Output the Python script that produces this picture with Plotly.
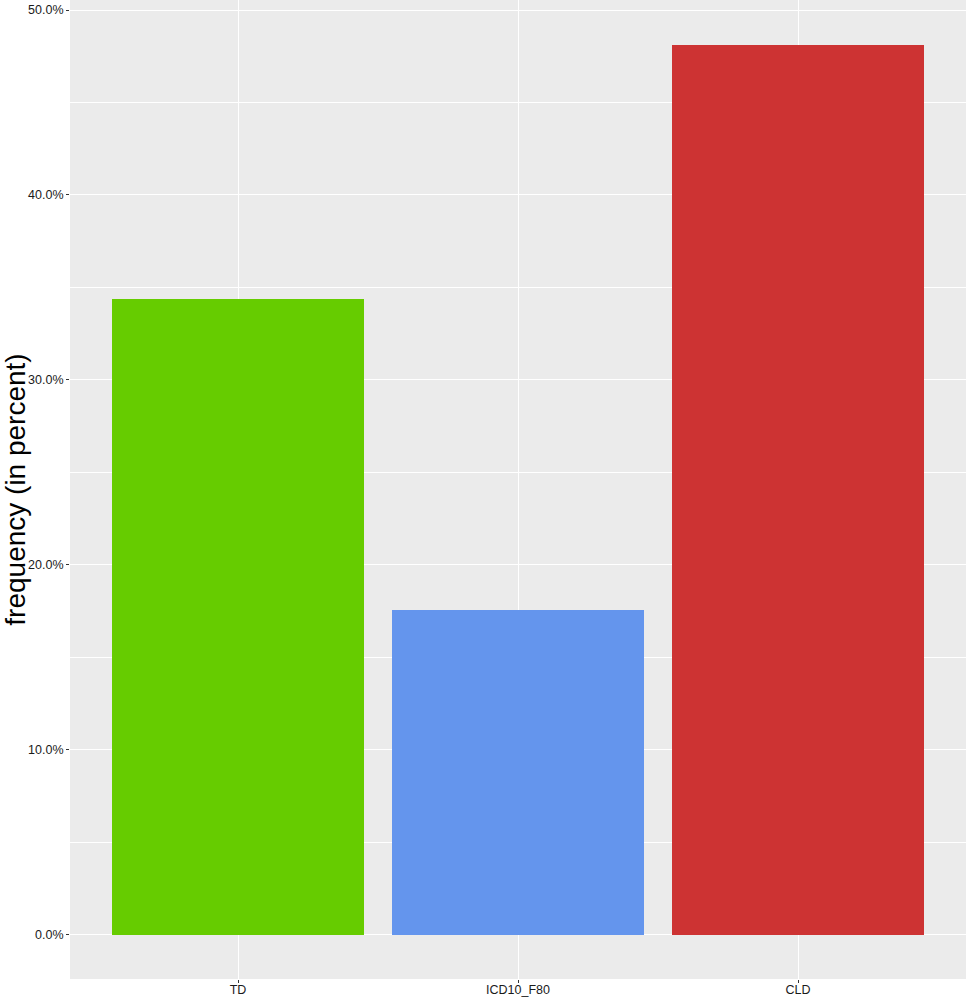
import plotly.graph_objects as go

categories = ["TD", "ICD10_F80", "CLD"]
frequency = [0.3435, 0.1753, 0.4814]
bar_colors = ["#66CC00", "#6495ED", "#CD3333"]

ymax = max(frequency)
pad = ymax * 0.05

fig = go.Figure(
    go.Bar(
        x=[0, 1, 2],
        y=frequency,
        width=0.9,
        marker=dict(color=bar_colors, line=dict(width=0)),
        showlegend=False,
    )
)

fig.update_layout(
    width=969,
    height=997,
    margin=dict(l=70, r=3, t=0, b=18, autoexpand=False),
    paper_bgcolor="white",
    plot_bgcolor="#EBEBEB",
    font=dict(family="Liberation Sans, Arial, sans-serif", color="#1a1a1a"),
    bargap=0,
)

fig.update_xaxes(
    automargin=False,
    range=[-0.6, 2.6],
    tickmode="array",
    tickvals=[0, 1, 2],
    ticktext=categories,
    showgrid=True,
    gridcolor="white",
    gridwidth=1.2,
    zeroline=False,
    ticks="outside",
    ticklen=3,
    tickcolor="#333333",
    tickfont=dict(size=12.5, color="#1a1a1a"),
    ticklabelstandoff=-4,
)

fig.update_yaxes(
    automargin=False,
    range=[-pad, ymax + pad],
    tickmode="array",
    tickvals=[0, 0.1, 0.2, 0.3, 0.4, 0.5],
    tickformat=".1%",
    showgrid=True,
    gridcolor="white",
    gridwidth=1.2,
    minor=dict(tickvals=[0.05, 0.15, 0.25, 0.35, 0.45], showgrid=True, gridcolor="white", gridwidth=0.6, ticks=""),
    zeroline=False,
    ticks="outside",
    ticklen=3,
    tickcolor="#333333",
    tickfont=dict(size=12.5, color="#1a1a1a"),
    title=dict(text="frequency (in percent)", font=dict(size=28, color="black"), standoff=6),
)

fig.write_html(
    "out.html",
    config={"displayModeBar": False},
    post_script="document.body.style.margin='0';document.body.style.overflow='hidden';",
)
